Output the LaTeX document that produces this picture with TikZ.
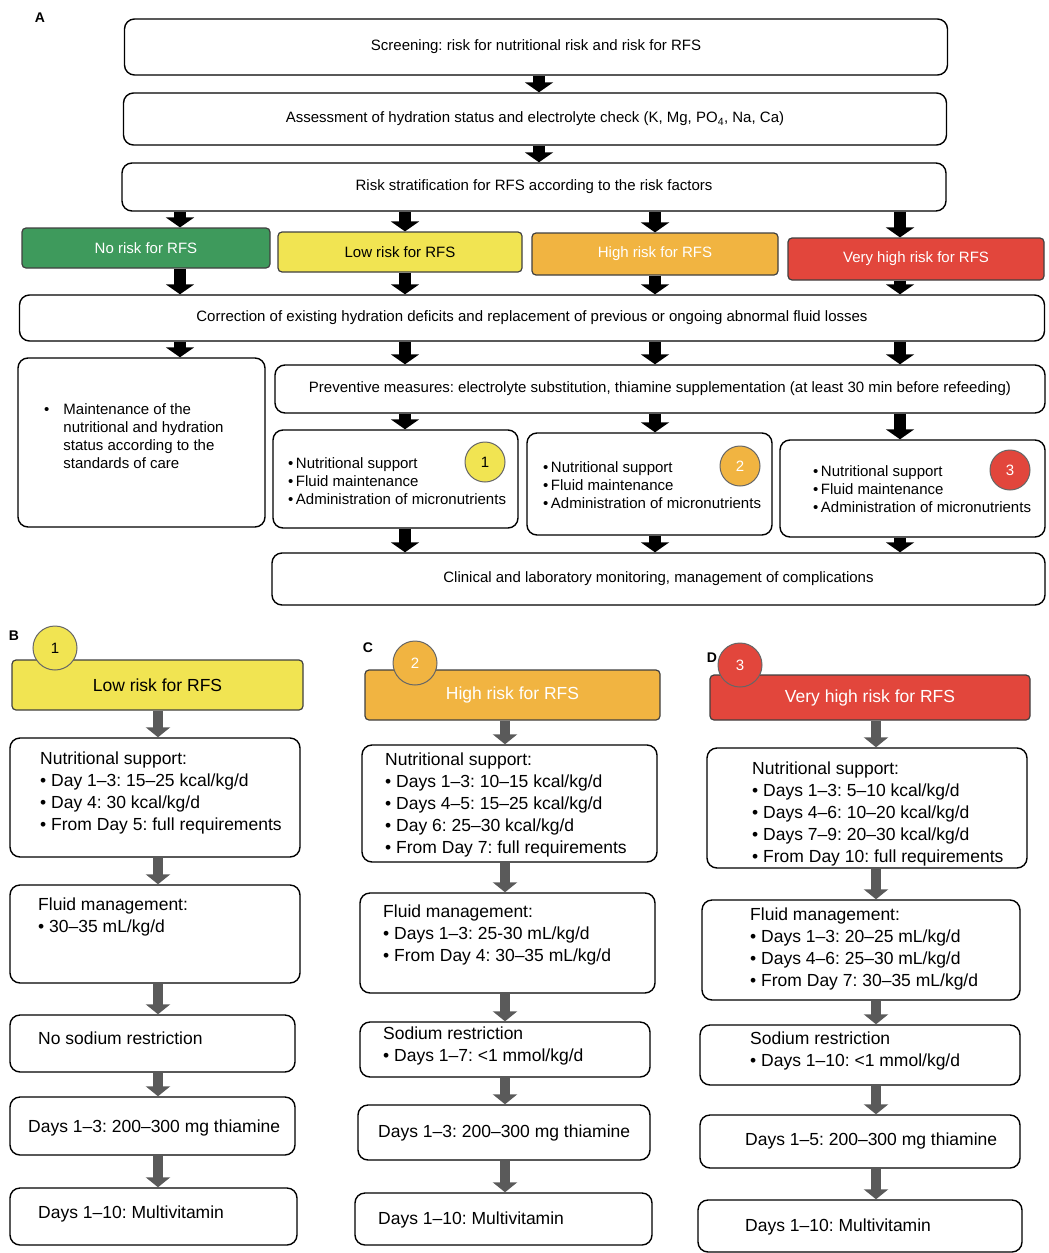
\documentclass[tikz,border=0pt]{standalone}
\usepackage{fontspec}
\setmainfont{Liberation Sans}
\usetikzlibrary{arrows.meta}
\frenchspacing

\definecolor{rfsgreen}{HTML}{3E9A5C}
\definecolor{rfsyellow}{HTML}{F1E452}
\definecolor{rfsorange}{HTML}{F1B441}
\definecolor{rfsred}{HTML}{E2463C}
\definecolor{arrowgray}{HTML}{5A5A5A}

\tikzset{
  flowbox/.style={draw, line width=1.4pt, rounded corners=10pt, fill=white},
  riskbox/.style={draw=black!75, line width=1.2pt, rounded corners=4pt, font=\fontsize{15}{18}\selectfont},
  atext/.style={font=\fontsize{15}{18}\selectfont},
  btext/.style={font=\fontsize{17.5}{22}\selectfont, align=left, inner sep=0pt},
  numcircle/.style={circle, draw=black!60, line width=1pt, minimum size=40pt, inner sep=0pt, font=\fontsize{15}{18}\selectfont},
  panel/.style={font=\bfseries\fontsize{14}{16}\selectfont},
  bigarrow/.style={line width=12pt, black, -{Triangle[width=28pt,length=10pt]}},
  grayarrow/.style={line width=10pt, arrowgray, -{Triangle[width=24pt,length=10pt]}}
}

\begin{document}
\begin{tikzpicture}[x=1pt,y=-1pt]
\useasboundingbox (0,0) rectangle (1049,1253);

% ---------- panel A ----------
\node[panel] (lblA) at (40,18) {A};
\node[flowbox, atext, minimum width=823pt, minimum height=56pt] (scr) at (536,47) {Screening: risk for nutritional risk and risk for RFS};
\node[flowbox, atext, minimum width=823pt, minimum height=52pt] (ass) at (535,119) {Assessment of hydration status and electrolyte check (K, Mg, PO\textsubscript{4}, Na, Ca)};
\node[flowbox, atext, minimum width=824pt, minimum height=48pt] (rsk) at (534,187) {Risk stratification for RFS according to the risk factors};

\node[riskbox, fill=rfsgreen, text=white, minimum width=248pt, minimum height=40pt] (norisk) at (146,248) {No risk for RFS};
\node[riskbox, fill=rfsyellow, minimum width=244pt, minimum height=40pt] (lowrisk) at (400,252) {Low risk for RFS};
\node[riskbox, fill=rfsorange, text=white, minimum width=246pt, minimum height=42pt] (highrisk) at (655,254) {High risk for RFS};
\node[riskbox, fill=rfsred, text=white, minimum width=256pt, minimum height=42pt] (vhrisk) at (916,259) {Very high risk for RFS};

\node[flowbox, atext, minimum width=1025pt, minimum height=46pt] (corr) at (532,318) {Correction of existing hydration deficits and replacement of previous or ongoing abnormal fluid losses};

\node[flowbox, minimum width=247pt, minimum height=169pt] (maint) at (141.5,442.5) {};
\node[atext, anchor=north west, inner sep=0pt] (tmaint) at (44,402)
  {\begin{tabular}{@{}l@{\hspace{14pt}}l@{}}\textbullet & Maintenance of the\\ & nutritional and hydration\\ & status according to the\\ & standards of care\end{tabular}};

\node[flowbox, atext, minimum width=770pt, minimum height=48pt] (prev) at (660,389) {Preventive measures: electrolyte substitution, thiamine supplementation (at least 30 min before refeeding)};

\node[flowbox, minimum width=245pt, minimum height=98pt] (sup1) at (395.5,479) {};
\node[flowbox, minimum width=245pt, minimum height=102pt] (sup2) at (649.5,484) {};
\node[flowbox, minimum width=265pt, minimum height=97pt] (sup3) at (912.5,488.5) {};
\node[atext, align=left, anchor=west, inner sep=0pt] (tsup1) at (288,481) {\textbullet\,Nutritional support\\\textbullet\,Fluid maintenance\\\textbullet\,Administration of micronutrients};
\node[atext, align=left, anchor=west, inner sep=0pt] (tsup2) at (543,485) {\textbullet\,Nutritional support\\\textbullet\,Fluid maintenance\\\textbullet\,Administration of micronutrients};
\node[atext, align=left, anchor=west, inner sep=0pt] (tsup3) at (813,489) {\textbullet\,Nutritional support\\\textbullet\,Fluid maintenance\\\textbullet\,Administration of micronutrients};
\node[numcircle, fill=rfsyellow] (n1) at (485,462) {1};
\node[numcircle, fill=rfsorange, text=white] (n2) at (740,466) {2};
\node[numcircle, fill=rfsred, text=white] (n3) at (1010,470) {3};

\node[flowbox, atext, minimum width=773pt, minimum height=52pt] (mon) at (658.5,579) {Clinical and laboratory monitoring, management of complications};

\coordinate (colA1) at (180,0);
\coordinate (colA2) at (405,0);
\coordinate (colA3) at (655,0);
\coordinate (colA4) at (900,0);
\coordinate (colA0) at (539,0);

\draw[bigarrow] (scr.south -| colA0) -- (ass.north -| colA0);
\draw[bigarrow] (ass.south -| colA0) -- (rsk.north -| colA0);
\foreach \c/\r in {colA1/norisk, colA2/lowrisk, colA3/highrisk, colA4/vhrisk} {
  \draw[bigarrow] (rsk.south -| \c) -- (\r.north -| \c);
  \draw[bigarrow] (\r.south -| \c) -- (corr.north -| \c);
}
\draw[bigarrow] (corr.south -| colA1) -- (maint.north -| colA1);
\foreach \c/\s in {colA2/sup1, colA3/sup2, colA4/sup3} {
  \draw[bigarrow] (corr.south -| \c) -- (prev.north -| \c);
  \draw[bigarrow] (prev.south -| \c) -- (\s.north -| \c);
  \draw[bigarrow] (\s.south -| \c) -- (mon.north -| \c);
}

% ---------- panel B ----------
\node[panel] (lblB) at (14,636) {B};
\node[riskbox, fill=rfsyellow, font=\fontsize{17.5}{22}\selectfont, minimum width=291pt, minimum height=50pt] (hdB) at (157.5,685) {\raisebox{-3pt}{Low risk for RFS}};
\node[numcircle, fill=rfsyellow, minimum size=44pt] (numB) at (55,648) {1};
\node[flowbox, minimum width=290pt, minimum height=119pt] (nutB) at (155,797.5) {};
\node[btext, anchor=west] (tnutB) at (40,793) {Nutritional support:\\\textbullet\ Day 1–3: 15–25 kcal/kg/d\\\textbullet\ Day 4: 30 kcal/kg/d\\\textbullet\ From Day 5: full requirements};
\node[flowbox, minimum width=290pt, minimum height=98pt] (fluB) at (155,934) {};
\node[btext, anchor=west] (tfluB) at (38,916.5) {Fluid management:\\\textbullet\ 30–35 mL/kg/d};
\node[flowbox, minimum width=285pt, minimum height=57pt] (sodB) at (152.5,1043.5) {};
\node[btext, anchor=west] (tsodB) at (38,1038) {No sodium restriction};
\node[flowbox, minimum width=285pt, minimum height=58pt] (thiB) at (152.5,1126) {};
\node[btext, anchor=west] (tthiB) at (28,1128) {Days 1–3: 200–300 mg thiamine};
\node[flowbox, minimum width=287pt, minimum height=57pt] (mvB) at (153.5,1216.5) {};
\node[btext, anchor=west] (tmvB) at (38,1214) {Days 1–10: Multivitamin};

% ---------- panel C ----------
\node[panel] (lblC) at (368,648) {C};
\node[riskbox, fill=rfsorange, text=white, font=\fontsize{17.5}{22}\selectfont, minimum width=295pt, minimum height=50pt] (hdC) at (512.5,695) {\raisebox{-2pt}{High risk for RFS}};
\node[numcircle, fill=rfsorange, text=white, minimum size=44pt] (numC) at (415,663) {2};
\node[flowbox, minimum width=295pt, minimum height=117pt] (nutC) at (509.5,803.5) {};
\node[btext, anchor=west] (tnutC) at (385,805) {Nutritional support:\\\textbullet\ Days 1–3: 10–15 kcal/kg/d\\\textbullet\ Days 4–5: 15–25 kcal/kg/d\\\textbullet\ Day 6: 25–30 kcal/kg/d\\\textbullet\ From Day 7: full requirements};
\node[flowbox, minimum width=295pt, minimum height=100pt] (fluC) at (507.5,943) {};
\node[btext, anchor=west] (tfluC) at (383,935) {Fluid management:\\\textbullet\ Days 1–3: 25-30 mL/kg/d\\\textbullet\ From Day 4: 30–35 mL/kg/d};
\node[flowbox, minimum width=290pt, minimum height=55pt] (sodC) at (505,1049.5) {};
\node[btext, anchor=west] (tsodC) at (383,1046) {Sodium restriction\\\textbullet\ Days 1–7: <1 mmol/kg/d};
\node[flowbox, minimum width=292pt, minimum height=55pt] (thiC) at (504,1132.5) {};
\node[btext, anchor=west] (tthiC) at (378,1133) {Days 1–3: 200–300 mg thiamine};
\node[flowbox, minimum width=297pt, minimum height=52pt] (mvC) at (503.5,1219) {};
\node[btext, anchor=west] (tmvC) at (378,1220) {Days 1–10: Multivitamin};

% ---------- panel D ----------
\node[panel] (lblD) at (712,658) {D};
\node[riskbox, fill=rfsred, text=white, font=\fontsize{17.5}{22}\selectfont, minimum width=320pt, minimum height=45pt] (hdD) at (870,697.5) {\raisebox{-4pt}{Very high risk for RFS}};
\node[numcircle, fill=rfsred, text=white, minimum size=44pt] (numD) at (740,665) {3};
\node[flowbox, minimum width=320pt, minimum height=120pt] (nutD) at (867,808) {};
\node[btext, anchor=west] (tnutD) at (752,814) {Nutritional support:\\\textbullet\ Days 1–3: 5–10 kcal/kg/d\\\textbullet\ Days 4–6: 10–20 kcal/kg/d\\\textbullet\ Days 7–9: 20–30 kcal/kg/d\\\textbullet\ From Day 10: full requirements};
\node[flowbox, minimum width=318pt, minimum height=100pt] (fluD) at (861,950) {};
\node[btext, anchor=west] (tfluD) at (750,949) {Fluid management:\\\textbullet\ Days 1–3: 20–25 mL/kg/d\\\textbullet\ Days 4–6: 25–30 mL/kg/d\\\textbullet\ From Day 7: 30–35 mL/kg/d};
\node[flowbox, minimum width=320pt, minimum height=60pt] (sodD) at (860,1055) {};
\node[btext, anchor=west] (tsodD) at (750,1051) {Sodium restriction\\\textbullet\ Days 1–10: <1 mmol/kg/d};
\node[flowbox, minimum width=320pt, minimum height=53pt] (thiD) at (860,1141.5) {};
\node[btext, anchor=west] (tthiD) at (745,1141) {Days 1–5: 200–300 mg thiamine};
\node[flowbox, minimum width=324pt, minimum height=52pt] (mvD) at (860,1226) {};
\node[btext, anchor=west] (tmvD) at (745,1227) {Days 1–10: Multivitamin};

% gray arrows in B, C, D
\coordinate (colB) at (158,0);
\coordinate (colC) at (505,0);
\coordinate (colD) at (876,0);
\foreach \p in {B,C,D} {
  \foreach \a/\b in {hd/nut, nut/flu, flu/sod, sod/thi, thi/mv} {
    \draw[grayarrow] (\a\p.south -| col\p) -- (\b\p.north -| col\p);
  }
}
\end{tikzpicture}
\end{document}
